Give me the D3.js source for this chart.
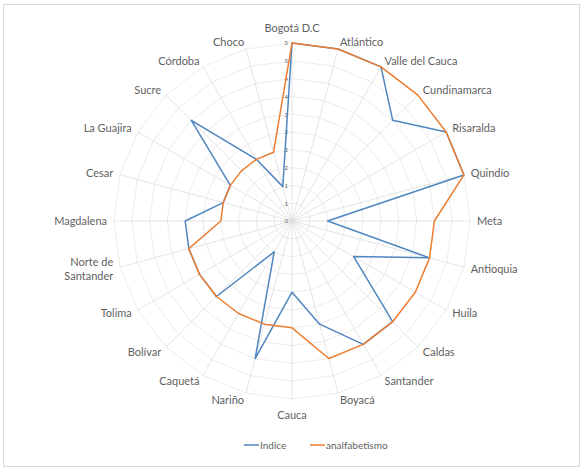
<!DOCTYPE html>
<html>
<head>
<meta charset="utf-8">
<script src="https://cdn.jsdelivr.net/npm/d3@7"></script>
<style>
  body { margin: 0; background: #fff; }
  text { font-family: Lato, "Open Sans", sans-serif; fill: #5f5f5f; }
</style>
</head>
<body>
<div id="chart"></div>
<script>
// Data
var categories = ["Bogotá D.C", "Atlántico", "Valle del Cauca", "Cundinamarca", "Risaralda",
  "Quindío", "Meta", "Antioquia", "Huila", "Caldas", "Santander", "Boyacá", "Cauca",
  "Nariño", "Caquetá", "Bolívar", "Tolima", "Norte de Santander", "Magdalena", "Cesar",
  "La Guajira", "Sucre", "Córdoba", "Choco"];
var indice        = [5, 5, 5, 4, 5, 5, 1, 4, 2, 4, 4, 3, 2, 4, 1, 3, 3, 3, 3, 2, 2, 4, 2, 1];
var analfabetismo = [5, 5, 5, 5, 5, 5, 4, 4, 4, 4, 4, 4, 3, 3, 3, 3, 3, 3, 2, 2, 2, 2, 2, 2];
var tickValues = [0, 0.5, 1, 1.5, 2, 2.5, 3, 3.5, 4, 4.5, 5];
var tickLabels = ["0", "1", "1", "2", "2", "3", "3", "4", "4", "5", "5"];
var seriesNames = ["Indice", "analfabetismo"];

var svgWidth = 583;
var svgHeight = 469;
var cx = 292, cy = 221, radius = 178;
var colors = ["#4f86c0", "#ed7d31"];

var svg = d3.select("#chart")
  .append("svg")
  .attr("width", svgWidth)
  .attr("height", svgHeight);

// chart frame
svg.append("rect")
  .attr("x", 3.5).attr("y", 4.5)
  .attr("width", 576).attr("height", 462)
  .attr("fill", "none")
  .attr("stroke", "#d9d9d9");

var rScale = d3.scaleLinear().domain([0, 5]).range([0, radius]);
var aScale = d3.scaleLinear().domain([0, categories.length]).range([0, 2 * Math.PI]);

var g = svg.append("g")
  .attr("transform", `translate(${cx},${cy})`);

// grid rings
var ringLine = d3.lineRadial()
  .angle((d, i) => aScale(i))
  .radius(d => rScale(d))
  .curve(d3.curveLinearClosed);

tickValues.slice(1).forEach(function(t) {
  g.append("path")
    .attr("d", ringLine(categories.map(() => t)))
    .attr("fill", "none")
    .attr("stroke", "#e6e6e6")
    .attr("stroke-width", 0.8);
});

// spokes
g.selectAll(".spoke")
  .data(categories)
  .enter()
  .append("line")
    .attr("class", "spoke")
    .attr("x1", 0).attr("y1", 0)
    .attr("x2", (d, i) => rScale(5) * Math.sin(aScale(i)))
    .attr("y2", (d, i) => -rScale(5) * Math.cos(aScale(i)))
    .attr("stroke", "#dedede")
    .attr("stroke-width", 0.8);

// value axis labels along the top spoke
var yScale = d3.scaleLinear().domain([0, 5]).range([0, -radius]);
var yAxis = d3.axisLeft(yScale)
  .tickValues(tickValues)
  .tickSize(0)
  .tickPadding(4)
  .tickFormat((d, i) => tickLabels[i]);
var axisG = g.append("g").call(yAxis);
axisG.select(".domain").remove();
axisG.selectAll("text")
  .style("font-family", "Lato, sans-serif")
  .style("font-size", "6px")
  .attr("fill", "#8c8c8c");

// series
var seriesLine = d3.lineRadial()
  .angle((d, i) => aScale(i))
  .radius(d => rScale(d))
  .curve(d3.curveLinearClosed);

[indice, analfabetismo].forEach(function(values, k) {
  g.append("path")
    .attr("d", seriesLine(values))
    .attr("fill", "none")
    .attr("stroke", colors[k])
    .attr("stroke-width", 1.5)
    .attr("stroke-linejoin", "round");
});

// category labels
var labelR = radius + 7;
categories.forEach(function(name, i) {
  var a = aScale(i);
  var s = Math.sin(a), c = Math.cos(a);
  var x = labelR * s;
  var y = -labelR * c;
  var anchor = Math.abs(s) < 0.01 ? "middle" : (s > 0 ? "start" : "end");
  if (Math.abs(s) < 0.01) y += c > 0 ? -8 : 9;
  var t = g.append("text")
    .attr("x", x)
    .attr("y", y)
    .attr("text-anchor", anchor)
    .style("font-size", "11px");
  if (name === "Norte de Santander") {
    t.append("tspan").attr("x", x).attr("dy", "-0.3em").text("Norte de");
    t.append("tspan").attr("x", x).attr("dy", "1.35em").text("Santander");
  } else {
    t.attr("dy", "0.35em").text(name);
  }
});

// legend
var legend = svg.append("g").attr("transform", "translate(244,445)");
var legendX = [0, 66];
seriesNames.forEach(function(name, k) {
  legend.append("line")
    .attr("x1", legendX[k]).attr("x2", legendX[k] + 15)
    .attr("y1", 0).attr("y2", 0)
    .attr("stroke", colors[k])
    .attr("stroke-width", 1.5);
  legend.append("text")
    .attr("x", legendX[k] + 16)
    .attr("y", 0)
    .attr("dy", "0.35em")
    .style("font-size", "10px")
    .text(name);
});
</script>
</body>
</html>
